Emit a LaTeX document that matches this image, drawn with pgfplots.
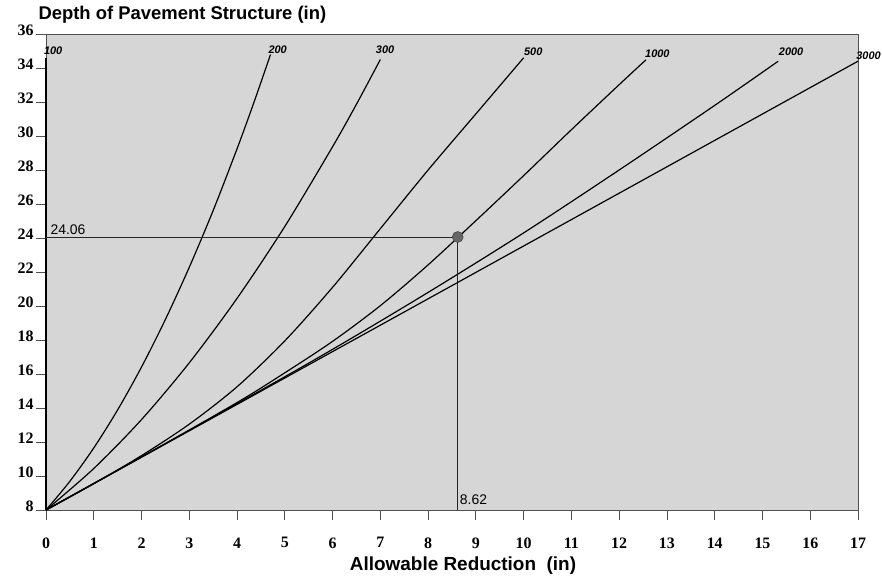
\documentclass[border=0pt]{standalone}
\usepackage{fontspec}
\setmainfont{Liberation Sans}
\newfontfamily\tickfont{Liberation Serif}
\usepackage{pgfplots}
\pgfplotsset{compat=1.18}
\definecolor{bgc}{RGB}{214,214,214}
\definecolor{framec}{RGB}{80,80,80}
\begin{document}
\begin{tikzpicture}[x=1bp,y=1bp]
\path[use as bounding box] (0,0) rectangle (882,582);
\begin{axis}[
  at={(46bp,72bp)}, anchor=south west,
  scale only axis, width=812bp, height=476bp,
  xmin=0, xmax=17, ymin=8, ymax=36,
  xtick={0,1,...,17}, ytick={8,10,...,36},
  xtick pos=bottom, ytick pos=left,
  tick align=outside, major tick length=10bp,
  axis background/.style={fill=bgc},
  axis line style={framec, line width=0.8pt},
  tick style={framec, line width=0.8pt},
  ticklabel style={font=\tickfont\bfseries\fontsize{16}{16}\selectfont},
  xticklabel style={yshift=-14bp},
  yticklabel style={yshift=4bp, xshift=1bp},
  /pgf/number format/assume math mode=true,
  clip=false,
]
% 100
\addplot[black, line width=1.3pt] coordinates {(0,8) (0,34.6)};
% 200
\addplot[black, line width=1.2pt, smooth] coordinates {(0,8) (0.5,9.69) (1,11.65) (1.5,13.89) (2,16.41) (2.5,19.21) (3,22.28) (3.5,25.62) (4,29.25) (4.35,31.95) (4.7,34.79)};
% 300
\addplot[black, line width=1.2pt, smooth] coordinates {(0,8) (1,10.44) (2,13.32) (3,16.66) (4,20.45) (5,24.68) (6,29.37) (6.5,31.87) (7,34.50)};
% 500
\addplot[black, line width=1.2pt, smooth] coordinates {(0,8) (1,9.55) (2,11.2) (3,13.05) (4,15.25) (5,17.95) (6,21.1) (7,24.55) (8,28.0) (9,31.3) (10,34.6)};
% 1000
\addplot[black, line width=1.2pt, smooth] coordinates {(0,8) (2,11.12) (4,14.32) (5,16.07) (6,17.92) (7,20.02) (8,22.42) (9,25.02) (10,27.67) (11,30.37) (12,33.02) (12.56,34.48)};
% 2000
\addplot[black, line width=1.2pt, smooth] coordinates {(0,8) (2,11.12) (4,14.25) (6,17.45) (8,20.8) (10,24.3) (12,28.0) (14,31.8) (15.33,34.4)};
% 3000
\addplot[black, line width=1.2pt] coordinates {(0,8) (17,34.4)};
% reference lines
\addplot[black!85, line width=0.9pt] coordinates {(0,24.06) (8.62,24.06)};
\addplot[black!85, line width=0.9pt] coordinates {(8.62,24.06) (8.62,8)};
\addplot[only marks, mark=*, mark size=5.5bp, mark options={fill=black!60, draw=black!80}] coordinates {(8.62,24.06)};
% labels
\node[anchor=south west, font=\fontsize{14}{14}\selectfont, inner sep=2bp] at (axis cs:0.05,24.06) {24.06};
\node[anchor=south west, font=\fontsize{14}{14}\selectfont, inner sep=2bp] at (axis cs:8.62,8.2) {8.62};
\begin{scope}[font=\bfseries\itshape\fontsize{11}{11}\selectfont]
\node at (axis cs:0.15,35.0) {100};
\node at (axis cs:4.85,35.1) {200};
\node at (axis cs:7.1,35.1) {300};
\node at (axis cs:10.2,34.95) {500};
\node at (axis cs:12.8,34.85) {1000};
\node at (axis cs:15.6,34.95) {2000};
\node[anchor=west, inner sep=0.5bp] at (axis cs:16.95,34.7) {3000};
\end{scope}
\end{axis}
\node[anchor=west, font=\bfseries\fontsize{18.5}{18.5}\selectfont] at (35,567) {Depth of Pavement Structure (in)};
\node[font=\bfseries\fontsize{19}{19}\selectfont] at (463,16) {Allowable Reduction\ \ (in)};
\end{tikzpicture}
\end{document}
